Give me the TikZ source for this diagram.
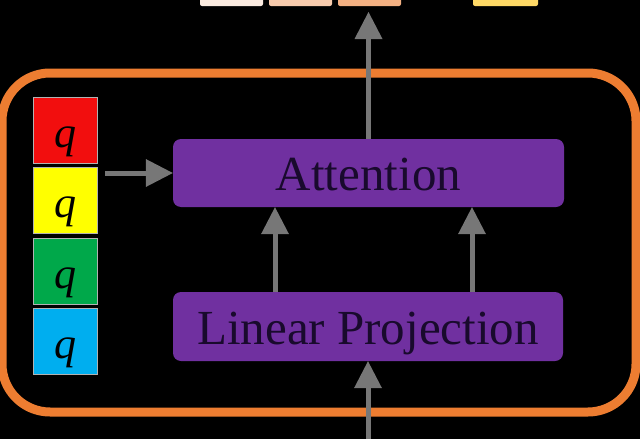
\documentclass[tikz,border=0pt]{standalone}
\usepackage{fontspec}
\setmainfont{Liberation Serif}
\usetikzlibrary{arrows.meta}
\definecolor{bpurple}{HTML}{7030A0}
\definecolor{borange}{HTML}{ED7D31}
\definecolor{bgray}{HTML}{777777}
\definecolor{txtdark}{RGB}{25,10,45}
\definecolor{qred}{HTML}{F20E0E}
\definecolor{qyellow}{HTML}{FFFF00}
\definecolor{qgreen}{HTML}{00A84A}
\definecolor{qblue}{HTML}{00AEEF}
\definecolor{tone}{HTML}{FBEBE0}
\definecolor{ttwo}{HTML}{F8CBAD}
\definecolor{tthree}{HTML}{F4B183}
\definecolor{tfour}{HTML}{FFD966}
\begin{document}
\begin{tikzpicture}[x=1pt,y=-1pt,
  blockbox/.style={rectangle, rounded corners=8pt, fill=bpurple, inner sep=0pt,
    text=txtdark, text height=35pt, text depth=0pt, font=\fontsize{49}{55}\selectfont},
  qbox/.style={rectangle, draw=white!70!black, line width=0.6pt, minimum width=64pt,
    minimum height=66pt, inner sep=0pt, text height=34pt, text depth=0pt,
    font=\fontsize{44}{50}\selectfont\itshape, text=black},
  arr/.style={draw=bgray, line width=5pt,
    -{Triangle[length=27pt,width=28pt,line width=0pt]}, fill=bgray},
  topbox/.style={fill=#1, rounded corners=2pt}]
\clip (0,0) rectangle (640,439);
\fill[black] (0,0) rectangle (640,439);
% partial boxes at the top
\path[topbox=tone] (200,-20) rectangle (263,6);
\path[topbox=ttwo] (269,-20) rectangle (332,6);
\path[topbox=tthree] (338,-20) rectangle (401,6);
\path[topbox=tfour] (473,-20) rectangle (538,6);
% orange frame
\draw[borange, line width=9pt, rounded corners=48pt] (2,73) rectangle (636,412);
% q boxes
\node[qbox, fill=qred]    (q1) at (65,130)   {q};
\node[qbox, fill=qyellow] (q2) at (65,200.5) {q};
\node[qbox, fill=qgreen]  (q3) at (65,271)   {q};
\node[qbox, fill=qblue]   (q4) at (65,341.5) {q};
% blocks
\node[blockbox, minimum width=391pt, minimum height=68pt] (attn) at (368.5,173) {Attention};
\node[blockbox, minimum width=390pt, minimum height=69pt] (lp) at (368,326.5) {Linear Projection};
% connectors
\coordinate (inp) at (368,445);
\coordinate (outp) at (368.5,12);
\draw[arr] (inp) -- (lp.south);
\draw[arr] ([xshift=-93pt]lp.north) -- ([xshift=-93.5pt]attn.south);
\draw[arr] ([xshift=104pt]lp.north) -- ([xshift=103.5pt]attn.south);
\draw[arr] (attn.north) -- (outp);
\draw[arr, shorten <=8pt] (q2.east |- attn.west) -- (attn.west);
\end{tikzpicture}
\end{document}
